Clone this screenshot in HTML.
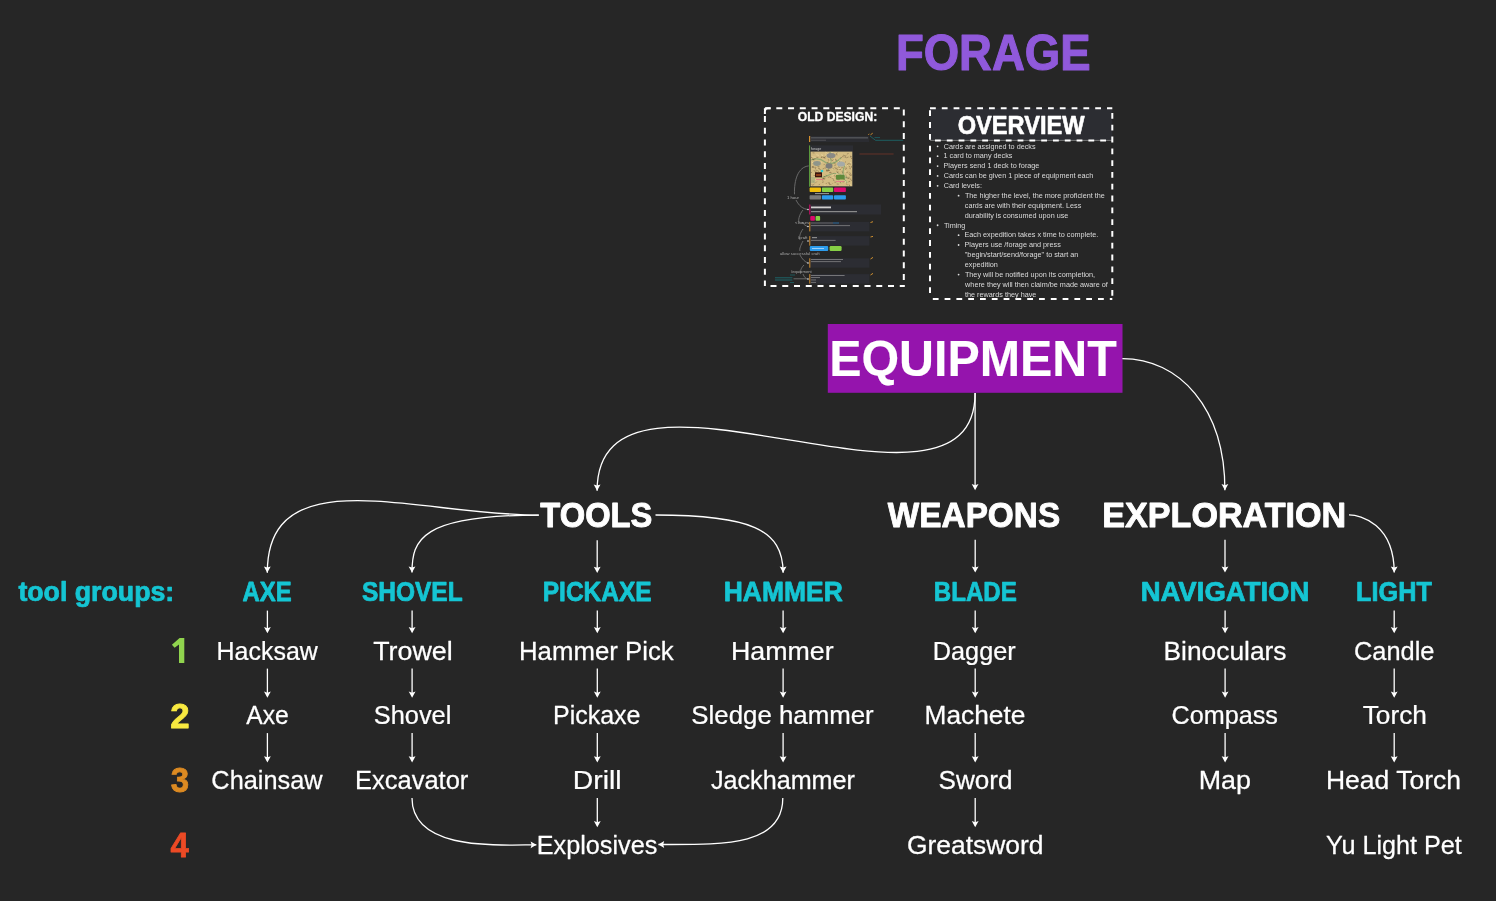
<!DOCTYPE html>
<html><head><meta charset="utf-8"><style>
html,body{margin:0;padding:0;background:#262626;width:1496px;height:901px;overflow:hidden}
svg{display:block;font-family:"Liberation Sans",sans-serif;will-change:transform}
</style></head><body>
<svg width="1496" height="901" viewBox="0 0 1496 901">
<rect width="1496" height="901" fill="#262626"/>
<rect x="827.8" y="324" width="294.7" height="68.8" fill="#9514ad"/>
<!-- overview box -->
<rect x="930" y="108.3" width="182.3" height="32.1" fill="#2c2d32"/>
<line x1="930" y1="140.4" x2="1112.3" y2="140.4" stroke="#9a9a9a" stroke-width="0.7"/>
<line x1="764.9" y1="108.3" x2="903.8" y2="108.3" stroke="#fff" stroke-width="2" stroke-dasharray="6 5.75" stroke-dashoffset="0.35"/>
<line x1="764.9" y1="108.3" x2="764.9" y2="286" stroke="#fff" stroke-width="2" stroke-dasharray="6 5.75" stroke-dashoffset="4.05"/>
<line x1="903.8" y1="108.3" x2="903.8" y2="286" stroke="#fff" stroke-width="2" stroke-dasharray="6 5.75" stroke-dashoffset="10.65"/>
<line x1="764.9" y1="286" x2="904.8" y2="286" stroke="#fff" stroke-width="2" stroke-dasharray="6 5.75" stroke-dashoffset="6.15"/>
<path d="M764.9 114 V111.3 Q764.9 108.3 767.9 108.3 H770.7" fill="none" stroke="#fff" stroke-width="2"/>
<line x1="930" y1="108.3" x2="1112.3" y2="108.3" stroke="#fff" stroke-width="2" stroke-dasharray="5.8 6" stroke-dashoffset="11.8"/>
<line x1="930" y1="108.3" x2="930" y2="299" stroke="#fff" stroke-width="2" stroke-dasharray="5.8 6" stroke-dashoffset="9.8"/>
<line x1="1112.3" y1="108.3" x2="1112.3" y2="299" stroke="#fff" stroke-width="2" stroke-dasharray="5.8 6" stroke-dashoffset="7.1"/>
<line x1="930" y1="140.4" x2="1112.3" y2="140.4" stroke="#fff" stroke-width="2" stroke-dasharray="5.8 6" stroke-dashoffset="6.8"/>
<line x1="930" y1="299" x2="1112.3" y2="299" stroke="#fff" stroke-width="2" stroke-dasharray="5.8 6" stroke-dashoffset="9"/>
<g id="thumb">
<rect x="810" y="136" width="59" height="6" fill="#2b2c31"/>
<rect x="809" y="136" width="1.2" height="6" fill="#d4902e"/>
<rect x="811" y="137.3" width="57" height="1.1" fill="#5f6064"/>
<rect x="811" y="139.7" width="15" height="1.1" fill="#4c4d52"/>
<path d="M868.3 134.6 l1 -0.6 M870.5 134.8 l2.2 -1.6" stroke="#e09a30" stroke-width="0.9"/>
<polyline points="870,136 875.5,140.3 903.3,140.3" fill="none" stroke="#1d6468" stroke-width="0.9"/>
<line x1="874.5" y1="137.6" x2="880" y2="137.6" stroke="#1d6468" stroke-width="0.8"/>
<rect x="810" y="145.4" width="43" height="41.3" fill="#2c2d33"/>
<rect x="809" y="145.4" width="1.1" height="41.3" fill="#5b9a3c"/>
<text x="811" y="149.9" font-size="3.6" fill="#c8c8c8" font-family="Liberation Sans">forage</text>
<rect x="810.6" y="151.6" width="41.7" height="34.7" fill="#d3bc83"/>
<path d="M811 160 q8 -3 14 2 t16 -4 M815 175 q6 4 14 0 t18 3 M830 152 q3 10 -2 18 M845 165 q-5 8 2 18" fill="none" stroke="#8fa870" stroke-width="1.1"/>
<path d="M824.1 157.2l1.6 1.0 M813.9 170.0l0.8 1.6 M834.6 182.5l1.8 -0.6 M812.5 166.6l1.6 1.0 M820.7 170.5l1.6 1.0 M844.5 156.3l1.8 -0.6 M836.5 171.6l1.6 1.0 M834.4 165.4l1.8 -0.6 M812.9 180.8l0.8 1.6 M828.0 170.2l2.0 0.2 M823.5 179.4l1.8 -0.6 M815.2 171.2l1.8 -0.6 M826.1 170.4l1.6 1.0 M833.9 172.8l-1.2 1.2 M838.6 166.4l0.8 1.6 M829.9 183.0l0.8 1.6 M823.1 178.7l1.8 -0.6 M814.3 162.2l-1.2 1.2 M846.4 176.5l0.8 1.6 M835.7 154.6l2.0 0.2 M827.9 177.4l1.8 -0.6 M848.8 166.2l1.6 1.0 M842.0 171.3l0.8 1.6 M824.8 163.9l-1.2 1.2 M834.5 167.4l1.6 1.0 M849.3 168.0l1.6 1.0 M813.5 175.6l2.0 0.2 M851.2 179.6l0.8 1.6 M840.0 181.7l0.8 1.6 M811.9 167.6l1.8 -0.6 M835.7 168.6l1.8 -0.6 M842.1 156.5l1.8 -0.6 M827.1 182.7l-1.2 1.2 M814.3 167.2l2.0 0.2 M822.3 156.8l-1.2 1.2 M846.0 161.5l-1.2 1.2 M851.0 174.9l-1.2 1.2 M849.8 157.2l1.8 -0.6 M817.1 174.1l1.6 1.0 M830.6 171.8l0.8 1.6 M822.4 157.1l2.0 0.2 M826.0 171.1l1.8 -0.6 M839.0 169.4l2.0 0.2 M837.5 176.8l-1.2 1.2 M847.4 178.2l2.0 0.2 M826.9 165.5l1.6 1.0 M830.5 165.5l1.8 -0.6 M813.7 159.2l1.8 -0.6 M815.5 172.2l1.6 1.0 M811.0 157.2l1.6 1.0 M849.4 172.6l1.6 1.0 M846.4 172.6l1.8 -0.6 M836.7 184.0l2.0 0.2 M825.7 156.3l-1.2 1.2 M851.2 167.7l-1.2 1.2 M823.6 157.0l0.8 1.6 M841.0 168.1l1.8 -0.6 M831.9 159.0l2.0 0.2 M825.7 175.2l1.6 1.0 M841.7 162.1l1.6 1.0 M839.2 160.9l0.8 1.6 M847.8 164.0l1.8 -0.6 M832.6 178.1l0.8 1.6 M836.8 172.6l1.8 -0.6 M843.6 179.5l1.8 -0.6 M819.1 168.6l1.6 1.0 M851.1 178.5l-1.2 1.2 M821.5 175.3l0.8 1.6 M829.1 183.4l0.8 1.6 M849.7 164.3l1.8 -0.6 M815.1 167.9l0.8 1.6 M819.3 173.0l2.0 0.2 M845.0 168.2l0.8 1.6 M843.4 155.0l1.6 1.0 M847.8 178.3l1.8 -0.6 M830.4 158.1l0.8 1.6 M814.5 183.7l-1.2 1.2 M829.8 177.0l1.6 1.0 M840.4 157.9l1.8 -0.6 M812.1 171.9l-1.2 1.2 M843.7 157.1l2.0 0.2 M850.7 174.1l0.8 1.6 M817.3 170.5l1.6 1.0 M811.6 184.5l1.6 1.0 M832.3 183.3l-1.2 1.2 M851.0 158.7l1.8 -0.6 M812.1 159.3l2.0 0.2 M820.7 171.7l0.8 1.6 M833.0 180.0l1.6 1.0 M847.9 164.0l-1.2 1.2 M837.8 179.3l2.0 0.2 M828.0 182.8l2.0 0.2 M816.3 157.3l2.0 0.2 M811.8 166.9l1.8 -0.6 M835.6 178.0l1.8 -0.6 M818.0 168.0l1.6 1.0 M833.5 163.1l2.0 0.2 M832.5 168.3l1.6 1.0 M846.8 154.1l1.8 -0.6 M822.2 177.9l2.0 0.2 M829.3 153.1l1.6 1.0 M829.0 172.6l2.0 0.2 M835.5 158.8l0.8 1.6 M829.3 170.0l-1.2 1.2 M831.6 160.4l2.0 0.2 M846.5 183.6l0.8 1.6 M848.4 181.9l1.8 -0.6 M845.0 156.8l1.6 1.0 M826.9 162.7l1.8 -0.6 M828.3 159.3l0.8 1.6 M842.7 182.1l1.8 -0.6 M849.0 173.6l0.8 1.6 M816.8 181.6l-1.2 1.2 M819.9 183.9l-1.2 1.2 M846.8 157.6l1.8 -0.6 M817.5 166.6l2.0 0.2 M827.4 166.2l0.8 1.6 M823.9 176.2l1.6 1.0 M824.7 167.5l1.6 1.0 M826.6 169.4l0.8 1.6 M831.7 154.3l1.8 -0.6 M850.4 155.7l0.8 1.6 M822.0 182.4l1.8 -0.6 M822.0 156.5l-1.2 1.2 M845.4 174.7l0.8 1.6 M827.4 170.1l2.0 0.2 M834.1 175.5l1.6 1.0 M822.3 178.8l1.8 -0.6 M828.2 154.6l1.6 1.0 M836.7 178.9l1.6 1.0 M835.6 159.6l0.8 1.6 M845.9 167.3l0.8 1.6 M851.3 166.1l0.8 1.6 M836.2 153.6l1.8 -0.6 M849.0 184.5l0.8 1.6 M813.0 158.9l0.8 1.6 M836.5 169.9l1.8 -0.6 M822.7 168.9l1.8 -0.6 M822.0 179.0l0.8 1.6 M812.5 152.8l2.0 0.2" stroke="#5c4a2e" stroke-width="0.55" stroke-opacity="0.75" fill="none"/>
<path d="M833.3 158.5l1.4 0.4 M830.2 183.3l1.4 0.4 M815.3 179.5l1.4 0.4 M828.5 168.7l1.4 0.4 M844.8 165.3l1.4 0.4 M831.5 175.1l1.4 0.4 M850.8 163.6l1.4 0.4 M844.7 175.7l1.4 0.4 M836.8 165.7l1.4 0.4 M825.1 154.0l1.4 0.4 M816.3 154.6l1.4 0.4 M841.0 160.7l1.4 0.4 M817.6 155.0l1.4 0.4 M845.1 181.2l1.4 0.4 M838.2 161.6l1.4 0.4 M820.8 162.0l1.4 0.4 M829.6 157.4l1.4 0.4 M829.1 161.0l1.4 0.4 M850.0 184.6l1.4 0.4 M833.2 160.3l1.4 0.4 M850.1 162.5l1.4 0.4 M825.4 152.2l1.4 0.4 M826.5 168.0l1.4 0.4 M831.4 158.9l1.4 0.4 M831.4 152.4l1.4 0.4 M821.7 155.2l1.4 0.4 M827.2 153.6l1.4 0.4 M811.9 162.3l1.4 0.4 M820.4 171.7l1.4 0.4 M832.4 177.2l1.4 0.4 M837.6 176.0l1.4 0.4 M846.6 165.2l1.4 0.4 M824.2 185.0l1.4 0.4 M817.1 176.3l1.4 0.4 M837.1 153.7l1.4 0.4 M844.8 181.9l1.4 0.4 M836.4 176.6l1.4 0.4 M843.9 156.8l1.4 0.4 M832.2 169.0l1.4 0.4 M844.8 179.0l1.4 0.4 M844.5 171.6l1.4 0.4 M847.2 174.9l1.4 0.4 M839.1 159.9l1.4 0.4 M812.3 156.6l1.4 0.4 M825.6 155.7l1.4 0.4 M844.9 170.8l1.4 0.4 M836.4 173.1l1.4 0.4 M838.6 168.5l1.4 0.4 M811.1 178.8l1.4 0.4 M841.3 168.9l1.4 0.4 M832.7 174.2l1.4 0.4 M813.7 176.7l1.4 0.4 M821.2 154.7l1.4 0.4 M821.8 176.5l1.4 0.4 M819.3 176.8l1.4 0.4 M850.5 168.6l1.4 0.4 M826.5 168.2l1.4 0.4 M838.7 177.7l1.4 0.4 M836.0 173.6l1.4 0.4 M814.1 157.1l1.4 0.4" stroke="#efdca6" stroke-width="0.6" fill="none"/>
<ellipse cx="831" cy="155.5" rx="4.5" ry="2.6" fill="#8a8a86"/>
<ellipse cx="817" cy="163.5" rx="3.8" ry="2.4" fill="#8e958a"/>
<ellipse cx="829" cy="166" rx="3.5" ry="2.8" fill="#7d7d7a"/>
<ellipse cx="841" cy="164" rx="4" ry="2.6" fill="#a4aaa8"/>
<rect x="815" y="172.3" width="7" height="5" fill="#3a160e"/>
<rect x="816" y="174" width="5" height="2" fill="#8a3a1a"/>
<circle cx="822" cy="171" r="1.3" fill="#28c8d0"/>
<rect x="836" y="175" width="8.5" height="4.5" fill="#5e8a3a"/>
<rect x="816" y="179" width="7" height="0.8" fill="#e8708a"/>
<rect x="836" y="181" width="8" height="0.7" fill="#e8708a"/>
<rect x="811" y="177" width="4" height="6" fill="#9fae80" opacity="0.6"/>
<line x1="859.4" y1="154" x2="893.6" y2="154" stroke="#6b3328" stroke-width="0.9"/>
<rect x="809.6" y="187.6" width="11.4" height="4.4" rx="0.8" fill="#f0be0a"/>
<rect x="821.9" y="187.6" width="11.3" height="4.4" rx="0.8" fill="#86cf45"/>
<rect x="834" y="187.6" width="11.9" height="4.4" rx="0.8" fill="#dc0a6e"/>
<line x1="815" y1="193.6" x2="829" y2="193.6" stroke="#cfcfcf" stroke-width="0.7"/>
<rect x="809.6" y="195.2" width="11.4" height="4.4" rx="0.8" fill="#7a7a7a"/>
<rect x="821.9" y="195.2" width="11.3" height="4.4" rx="0.8" fill="#2c9bec"/>
<rect x="834" y="195.2" width="11.9" height="4.4" rx="0.8" fill="#2c9bec"/>
<path d="M808.7 165.9 C 798 167, 794 180, 794.5 194.3 M796 200 C 799 206, 803 209, 808 209.5 M803 210 C 799 215, 798 220, 799 224 M802 222 C 804 225, 806 226, 808 226.5 M803 229 C 800 233, 799 237, 800 240 M803 241 C 801 245, 799 249, 800 251 M800 255 C 802 259, 805 262, 808 263 M804 265 C 801 268, 800 271, 801 273 M803 274 C 804 277, 806 279, 808 279" fill="none" stroke="#7a7a7a" stroke-width="0.8"/>
<text x="787" y="199" font-size="4.2" fill="#b0b0b0" font-family="Liberation Sans">1 hour</text>
<rect x="809.8" y="204.5" width="71.2" height="10" fill="#2c2d33"/>
<rect x="809.3" y="204.5" width="1" height="10" fill="#dc0a6e"/>
<rect x="811" y="206.5" width="20" height="1.8" fill="#cfcfcf"/>
<rect x="811" y="211" width="46" height="1.2" fill="#8a8a8a"/>
<rect x="810.3" y="216.1" width="4.6" height="4.7" rx="0.8" fill="#dc0a6e"/>
<rect x="815.6" y="216.1" width="4.5" height="4.7" rx="0.8" fill="#86cf45"/>
<rect x="809.8" y="221.9" width="59.6" height="9.5" fill="#2c2d33"/>
<rect x="809.3" y="221.9" width="1" height="9.5" fill="#d4902e"/>
<rect x="811" y="222.5" width="22" height="1" fill="#66676b"/>
<rect x="833" y="222.5" width="6" height="1" fill="#2a6a9a"/>
<rect x="811" y="225.2" width="39" height="0.9" fill="#7a7a7c"/>
<text x="795" y="224" font-size="4.2" fill="#b0b0b0" font-family="Liberation Sans">&lt; hours</text>
<rect x="809.8" y="236.1" width="59.6" height="9.5" fill="#2c2d33"/>
<rect x="809.3" y="236.1" width="1" height="9.5" fill="#d4902e"/>
<rect x="812" y="237" width="5" height="1.2" fill="#8a8a8a"/>
<rect x="811" y="239.9" width="24.6" height="0.9" fill="#7a7a7c"/>
<text x="798" y="239" font-size="4.2" fill="#b0b0b0" font-family="Liberation Sans">/craft</text>
<rect x="809.8" y="246.1" width="18.4" height="4.8" rx="1" fill="#2c9bec"/>
<rect x="829.6" y="246.1" width="12" height="4.8" rx="1.2" fill="#86cf45"/>
<rect x="812" y="248.2" width="12" height="0.7" fill="#cde6ff"/>
<text x="780" y="254.5" font-size="4.2" fill="#a8a8a8" font-family="Liberation Sans">allow successful craft</text>
<rect x="809.8" y="258.3" width="59.6" height="9.4" fill="#2c2d33"/>
<rect x="809.3" y="258.3" width="1" height="9.4" fill="#d4902e"/>
<rect x="811" y="259.1" width="32" height="0.9" fill="#7e7e80"/>
<rect x="811" y="261.2" width="30" height="0.9" fill="#7a7a7c"/>
<text x="791" y="273" font-size="4.2" fill="#a8a8a8" font-family="Liberation Sans">/equipment</text>
<rect x="809.8" y="274.1" width="59.6" height="9.5" fill="#2c2d33"/>
<rect x="809.3" y="274.1" width="1" height="9.5" fill="#d4902e"/>
<rect x="811" y="275" width="33.6" height="0.9" fill="#7e7e80"/>
<rect x="811" y="277.1" width="9" height="0.9" fill="#7a7a7c"/>
<rect x="811" y="279.5" width="5" height="0.9" fill="#7a7a7c"/>
<rect x="811" y="281.9" width="5" height="0.9" fill="#7a7a7c"/>
<rect x="775" y="277.3" width="17.4" height="1" fill="#1d6468"/>
<rect x="775" y="279.5" width="17.4" height="1" fill="#1d6468"/>
<rect x="790" y="274.6" width="5" height="0.8" fill="#1d6468"/>
<rect x="790" y="282.2" width="4" height="0.8" fill="#1d6468"/>
<line x1="793.5" y1="278.8" x2="806.6" y2="278.8" stroke="#6a6a6a" stroke-width="1"/>
<path d="M870.5 222.5 l2.5 -0.8 M870.5 237 l2.5 -0.6 M870.5 259 l2.5 -1.6 M870.5 275 l2.5 -1.6" stroke="#e09a30" stroke-width="0.9"/>
<g fill="#e6e6e6"><circle cx="808" cy="209.5" r="0.8"/><circle cx="808" cy="226.5" r="0.8"/><circle cx="808" cy="241" r="0.8"/><circle cx="808" cy="263" r="0.8"/><circle cx="808" cy="279" r="0.8"/></g>
</g>

<polygon points="179.6,638 184.3,638 184.3,663 179,663 179,644.6 174.6,647.8 171.9,644.7" fill="#90d44e"/>
<path d="M975.1 393 C975.1 550.19 597.1 327.02 597.1 490.7" fill="none" stroke="#fff" stroke-width="1.3"/>
<polygon points="593.7,484.5 597.1,485.6 600.5,484.5 597.1,490.7" fill="#fff"/>
<path d="M1122.4 358.6 C1178.96 358.6 1224.9 407.45 1224.9 490.3" fill="none" stroke="#fff" stroke-width="1.3"/>
<polygon points="1221.5,484.1 1224.9,485.2 1228.3,484.1 1224.9,490.3" fill="#fff"/>
<path d="M538.8 515.1 C416.68 515.1 267.3 457.42 267.3 572.7" fill="none" stroke="#fff" stroke-width="1.3"/>
<polygon points="263.9,566.5 267.3,567.6 270.7,566.5 267.3,572.7" fill="#fff"/>
<path d="M538.8 515.1 C420.42 515.1 412 539.93 412 572.6" fill="none" stroke="#fff" stroke-width="1.3"/>
<polygon points="408.6,566.4 412,567.5 415.4,566.4 412,572.6" fill="#fff"/>
<path d="M655.5 515 C750.4 515 783.1 529.35 783.1 572.7" fill="none" stroke="#fff" stroke-width="1.3"/>
<polygon points="779.7,566.5 783.1,567.6 786.5,566.5 783.1,572.7" fill="#fff"/>
<path d="M1349 514.9 C1360.69 514.9 1394.2 524.03 1394.2 572.6" fill="none" stroke="#fff" stroke-width="1.3"/>
<polygon points="1390.8,566.4 1394.2,567.5 1397.6,566.4 1394.2,572.6" fill="#fff"/>
<path d="M412 798 C412 852.65 504.43 844.8 536.4 844.8" fill="none" stroke="#fff" stroke-width="1.3"/>
<polygon points="530.6,841.4 531.6,844.8 530.6,848.2 536.4,844.8" fill="#fff"/>
<path d="M782.8 798 C782.8 846.91 721.71 844.5 658.4 844.5" fill="none" stroke="#fff" stroke-width="1.3"/>
<polygon points="664.2,841.1 663.2,844.5 664.2,847.9 658.4,844.5" fill="#fff"/>
<line x1="975.1" y1="393" x2="975.1" y2="488.3" stroke="#fff" stroke-width="1.3"/>
<polygon points="971.7,484.1 975.1,485.2 978.5,484.1 975.1,490.3" fill="#fff"/>
<line x1="597.2" y1="540.2" x2="597.2" y2="570.9" stroke="#fff" stroke-width="1.3"/>
<polygon points="593.8,566.7 597.2,567.8 600.6,566.7 597.2,572.9" fill="#fff"/>
<line x1="975.2" y1="539.7" x2="975.2" y2="570.6" stroke="#fff" stroke-width="1.3"/>
<polygon points="971.8,566.4 975.2,567.5 978.6,566.4 975.2,572.6" fill="#fff"/>
<line x1="1225" y1="539.7" x2="1225" y2="570.6" stroke="#fff" stroke-width="1.3"/>
<polygon points="1221.6,566.4 1225,567.5 1228.4,566.4 1225,572.6" fill="#fff"/>
<line x1="267.4" y1="610.6" x2="267.4" y2="631.3" stroke="#fff" stroke-width="1.3"/>
<polygon points="264,627.1 267.4,628.2 270.8,627.1 267.4,633.3" fill="#fff"/>
<line x1="412.1" y1="610.6" x2="412.1" y2="631.3" stroke="#fff" stroke-width="1.3"/>
<polygon points="408.7,627.1 412.1,628.2 415.5,627.1 412.1,633.3" fill="#fff"/>
<line x1="597.3" y1="610.6" x2="597.3" y2="631.3" stroke="#fff" stroke-width="1.3"/>
<polygon points="593.9,627.1 597.3,628.2 600.7,627.1 597.3,633.3" fill="#fff"/>
<line x1="783.1" y1="610.6" x2="783.1" y2="631.3" stroke="#fff" stroke-width="1.3"/>
<polygon points="779.7,627.1 783.1,628.2 786.5,627.1 783.1,633.3" fill="#fff"/>
<line x1="975.2" y1="610.6" x2="975.2" y2="631.3" stroke="#fff" stroke-width="1.3"/>
<polygon points="971.8,627.1 975.2,628.2 978.6,627.1 975.2,633.3" fill="#fff"/>
<line x1="1225.1" y1="610.6" x2="1225.1" y2="631.3" stroke="#fff" stroke-width="1.3"/>
<polygon points="1221.7,627.1 1225.1,628.2 1228.5,627.1 1225.1,633.3" fill="#fff"/>
<line x1="1394.2" y1="610.6" x2="1394.2" y2="631.3" stroke="#fff" stroke-width="1.3"/>
<polygon points="1390.8,627.1 1394.2,628.2 1397.6,627.1 1394.2,633.3" fill="#fff"/>
<line x1="267.4" y1="668.6" x2="267.4" y2="695.8" stroke="#fff" stroke-width="1.3"/>
<polygon points="264,691.6 267.4,692.7 270.8,691.6 267.4,697.8" fill="#fff"/>
<line x1="412.1" y1="668.6" x2="412.1" y2="695.8" stroke="#fff" stroke-width="1.3"/>
<polygon points="408.7,691.6 412.1,692.7 415.5,691.6 412.1,697.8" fill="#fff"/>
<line x1="597.3" y1="668.6" x2="597.3" y2="695.8" stroke="#fff" stroke-width="1.3"/>
<polygon points="593.9,691.6 597.3,692.7 600.7,691.6 597.3,697.8" fill="#fff"/>
<line x1="783.1" y1="668.6" x2="783.1" y2="695.8" stroke="#fff" stroke-width="1.3"/>
<polygon points="779.7,691.6 783.1,692.7 786.5,691.6 783.1,697.8" fill="#fff"/>
<line x1="975.2" y1="668.6" x2="975.2" y2="695.8" stroke="#fff" stroke-width="1.3"/>
<polygon points="971.8,691.6 975.2,692.7 978.6,691.6 975.2,697.8" fill="#fff"/>
<line x1="1225.1" y1="668.6" x2="1225.1" y2="695.8" stroke="#fff" stroke-width="1.3"/>
<polygon points="1221.7,691.6 1225.1,692.7 1228.5,691.6 1225.1,697.8" fill="#fff"/>
<line x1="1394.2" y1="668.6" x2="1394.2" y2="695.8" stroke="#fff" stroke-width="1.3"/>
<polygon points="1390.8,691.6 1394.2,692.7 1397.6,691.6 1394.2,697.8" fill="#fff"/>
<line x1="267.4" y1="733.1" x2="267.4" y2="760.4" stroke="#fff" stroke-width="1.3"/>
<polygon points="264,756.2 267.4,757.3 270.8,756.2 267.4,762.4" fill="#fff"/>
<line x1="412.1" y1="733.1" x2="412.1" y2="760.4" stroke="#fff" stroke-width="1.3"/>
<polygon points="408.7,756.2 412.1,757.3 415.5,756.2 412.1,762.4" fill="#fff"/>
<line x1="597.3" y1="733.1" x2="597.3" y2="760.4" stroke="#fff" stroke-width="1.3"/>
<polygon points="593.9,756.2 597.3,757.3 600.7,756.2 597.3,762.4" fill="#fff"/>
<line x1="783.1" y1="733.1" x2="783.1" y2="760.4" stroke="#fff" stroke-width="1.3"/>
<polygon points="779.7,756.2 783.1,757.3 786.5,756.2 783.1,762.4" fill="#fff"/>
<line x1="975.2" y1="733.1" x2="975.2" y2="760.4" stroke="#fff" stroke-width="1.3"/>
<polygon points="971.8,756.2 975.2,757.3 978.6,756.2 975.2,762.4" fill="#fff"/>
<line x1="1225.1" y1="733.1" x2="1225.1" y2="760.4" stroke="#fff" stroke-width="1.3"/>
<polygon points="1221.7,756.2 1225.1,757.3 1228.5,756.2 1225.1,762.4" fill="#fff"/>
<line x1="1394.2" y1="733.1" x2="1394.2" y2="760.4" stroke="#fff" stroke-width="1.3"/>
<polygon points="1390.8,756.2 1394.2,757.3 1397.6,756.2 1394.2,762.4" fill="#fff"/>
<line x1="597.3" y1="798" x2="597.3" y2="825.3" stroke="#fff" stroke-width="1.3"/>
<polygon points="593.9,821.1 597.3,822.2 600.7,821.1 597.3,827.3" fill="#fff"/>
<line x1="975.2" y1="798" x2="975.2" y2="825.3" stroke="#fff" stroke-width="1.3"/>
<polygon points="971.8,821.1 975.2,822.2 978.6,821.1 975.2,827.3" fill="#fff"/>
<text transform="translate(895.9 69.85) scale(0.9052 1)" font-size="50.29" font-weight="bold" fill="#9059db" stroke="#9059db" stroke-width="1.1" stroke-linejoin="round">FORAGE</text>
<text transform="translate(829.14 375.74) scale(0.9656 1)" font-size="50.12" font-weight="bold" fill="#ffffff" stroke="#ffffff" stroke-width="0.12" stroke-linejoin="round">EQUIPMENT</text>
<text transform="translate(540.35 527.45) scale(0.9376 1)" font-size="34.88" font-weight="bold" fill="#ffffff" stroke="#ffffff" stroke-width="0.9" stroke-linejoin="round">TOOLS</text>
<text transform="translate(887.85 527.45) scale(0.9564 1)" font-size="34.88" font-weight="bold" fill="#ffffff" stroke="#ffffff" stroke-width="0.9" stroke-linejoin="round">WEAPONS</text>
<text transform="translate(1102.32 527.45) scale(0.9784 1)" font-size="34.88" font-weight="bold" fill="#ffffff" stroke="#ffffff" stroke-width="0.9" stroke-linejoin="round">EXPLORATION</text>
<text transform="translate(18.38 601.12) scale(0.9973 1)" font-size="26.82" font-weight="bold" fill="#15c5d3" stroke="#15c5d3" stroke-width="0.75" stroke-linejoin="round">tool groups:</text>
<text transform="translate(242.5 601.12) scale(0.8896 1)" font-size="26.82" font-weight="bold" fill="#15c5d3" stroke="#15c5d3" stroke-width="0.75" stroke-linejoin="round">AXE</text>
<text transform="translate(361.89 601.12) scale(0.9137 1)" font-size="26.82" font-weight="bold" fill="#15c5d3" stroke="#15c5d3" stroke-width="0.75" stroke-linejoin="round">SHOVEL</text>
<text transform="translate(542.74 601.12) scale(0.9146 1)" font-size="26.82" font-weight="bold" fill="#15c5d3" stroke="#15c5d3" stroke-width="0.75" stroke-linejoin="round">PICKAXE</text>
<text transform="translate(723.72 601.12) scale(0.9871 1)" font-size="26.82" font-weight="bold" fill="#15c5d3" stroke="#15c5d3" stroke-width="0.75" stroke-linejoin="round">HAMMER</text>
<text transform="translate(933.72 601.12) scale(0.9002 1)" font-size="26.82" font-weight="bold" fill="#15c5d3" stroke="#15c5d3" stroke-width="0.75" stroke-linejoin="round">BLADE</text>
<text transform="translate(1140.65 601.12) scale(1.0269 1)" font-size="26.82" font-weight="bold" fill="#15c5d3" stroke="#15c5d3" stroke-width="0.75" stroke-linejoin="round">NAVIGATION</text>
<text transform="translate(1356.1 601.12) scale(0.9419 1)" font-size="26.82" font-weight="bold" fill="#15c5d3" stroke="#15c5d3" stroke-width="0.75" stroke-linejoin="round">LIGHT</text>
<text transform="translate(216.57 659.77) scale(0.9651 1)" font-size="25.87" font-weight="normal" fill="#ffffff" stroke="#ffffff" stroke-width="0.25" stroke-linejoin="round">Hacksaw</text>
<text transform="translate(373.21 659.77) scale(1.0361 1)" font-size="25.87" font-weight="normal" fill="#ffffff" stroke="#ffffff" stroke-width="0.25" stroke-linejoin="round">Trowel</text>
<text transform="translate(519.01 659.77) scale(0.9969 1)" font-size="25.87" font-weight="normal" fill="#ffffff" stroke="#ffffff" stroke-width="0.25" stroke-linejoin="round">Hammer Pick</text>
<text transform="translate(731.03 659.77) scale(1.0352 1)" font-size="25.87" font-weight="normal" fill="#ffffff" stroke="#ffffff" stroke-width="0.25" stroke-linejoin="round">Hammer</text>
<text transform="translate(932.85 659.77) scale(0.9763 1)" font-size="25.87" font-weight="normal" fill="#ffffff" stroke="#ffffff" stroke-width="0.25" stroke-linejoin="round">Dagger</text>
<text transform="translate(1163.47 659.77) scale(1.0185 1)" font-size="25.87" font-weight="normal" fill="#ffffff" stroke="#ffffff" stroke-width="0.25" stroke-linejoin="round">Binoculars</text>
<text transform="translate(1353.93 659.77) scale(0.9827 1)" font-size="25.87" font-weight="normal" fill="#ffffff" stroke="#ffffff" stroke-width="0.25" stroke-linejoin="round">Candle</text>
<text transform="translate(246.32 724.38) scale(0.9522 1)" font-size="25.87" font-weight="normal" fill="#ffffff" stroke="#ffffff" stroke-width="0.25" stroke-linejoin="round">Axe</text>
<text transform="translate(373.83 724.38) scale(0.9799 1)" font-size="25.87" font-weight="normal" fill="#ffffff" stroke="#ffffff" stroke-width="0.25" stroke-linejoin="round">Shovel</text>
<text transform="translate(552.97 724.38) scale(0.9661 1)" font-size="25.87" font-weight="normal" fill="#ffffff" stroke="#ffffff" stroke-width="0.25" stroke-linejoin="round">Pickaxe</text>
<text transform="translate(691.32 724.38) scale(0.9992 1)" font-size="25.87" font-weight="normal" fill="#ffffff" stroke="#ffffff" stroke-width="0.25" stroke-linejoin="round">Sledge hammer</text>
<text transform="translate(924.57 724.38) scale(1.0165 1)" font-size="25.87" font-weight="normal" fill="#ffffff" stroke="#ffffff" stroke-width="0.25" stroke-linejoin="round">Machete</text>
<text transform="translate(1171.54 724.38) scale(0.9739 1)" font-size="25.87" font-weight="normal" fill="#ffffff" stroke="#ffffff" stroke-width="0.25" stroke-linejoin="round">Compass</text>
<text transform="translate(1362.71 724.38) scale(1.0153 1)" font-size="25.87" font-weight="normal" fill="#ffffff" stroke="#ffffff" stroke-width="0.25" stroke-linejoin="round">Torch</text>
<text transform="translate(211.34 788.98) scale(0.9791 1)" font-size="25.87" font-weight="normal" fill="#ffffff" stroke="#ffffff" stroke-width="0.25" stroke-linejoin="round">Chainsaw</text>
<text transform="translate(354.93 788.98) scale(0.9864 1)" font-size="25.87" font-weight="normal" fill="#ffffff" stroke="#ffffff" stroke-width="0.25" stroke-linejoin="round">Excavator</text>
<text transform="translate(572.81 788.98) scale(1.0939 1)" font-size="25.87" font-weight="normal" fill="#ffffff" stroke="#ffffff" stroke-width="0.25" stroke-linejoin="round">Drill</text>
<text transform="translate(710.93 788.98) scale(0.9729 1)" font-size="25.87" font-weight="normal" fill="#ffffff" stroke="#ffffff" stroke-width="0.25" stroke-linejoin="round">Jackhammer</text>
<text transform="translate(938.61 788.98) scale(1.0081 1)" font-size="25.87" font-weight="normal" fill="#ffffff" stroke="#ffffff" stroke-width="0.25" stroke-linejoin="round">Sword</text>
<text transform="translate(1198.63 788.98) scale(1.0379 1)" font-size="25.87" font-weight="normal" fill="#ffffff" stroke="#ffffff" stroke-width="0.25" stroke-linejoin="round">Map</text>
<text transform="translate(1325.95 788.98) scale(1.0258 1)" font-size="25.87" font-weight="normal" fill="#ffffff" stroke="#ffffff" stroke-width="0.25" stroke-linejoin="round">Head Torch</text>
<text transform="translate(536.75 853.58) scale(0.9753 1)" font-size="25.87" font-weight="normal" fill="#ffffff" stroke="#ffffff" stroke-width="0.25" stroke-linejoin="round">Explosives</text>
<text transform="translate(906.99 853.58) scale(1.0221 1)" font-size="25.87" font-weight="normal" fill="#ffffff" stroke="#ffffff" stroke-width="0.25" stroke-linejoin="round">Greatsword</text>
<text transform="translate(1326.03 853.58) scale(0.9737 1)" font-size="25.87" font-weight="normal" fill="#ffffff" stroke="#ffffff" stroke-width="0.25" stroke-linejoin="round">Yu Light Pet</text>
<text transform="translate(170.21 727.5) scale(0.9772 1)" font-size="35.61" font-weight="bold" fill="#f8e940" stroke="#f8e940" stroke-width="0.8" stroke-linejoin="round">2</text>
<text transform="translate(170.78 792.2) scale(0.9258 1)" font-size="35.61" font-weight="bold" fill="#dc8a22" stroke="#dc8a22" stroke-width="0.8" stroke-linejoin="round">3</text>
<text transform="translate(170.4 856.6) scale(0.9236 1)" font-size="35.61" font-weight="bold" fill="#ec4a25" stroke="#ec4a25" stroke-width="0.8" stroke-linejoin="round">4</text>
<text transform="translate(797.77 120.85) scale(0.9931 1)" font-size="12.21" font-weight="bold" fill="#ffffff" stroke="#ffffff" stroke-width="0.3" stroke-linejoin="round">OLD DESIGN:</text>
<text transform="translate(957.66 133.8) scale(0.9451 1)" font-size="25" font-weight="bold" fill="#ffffff" stroke="#ffffff" stroke-width="0.6" stroke-linejoin="round">OVERVIEW</text>
<text transform="translate(943.66 148.6) scale(0.9968 1)" font-size="7.3" fill="#dcdcdc">Cards are assigned to decks</text>
<circle cx="937.6" cy="146.3" r="0.9" fill="#dcdcdc"/>
<text transform="translate(943.55 158.47) scale(0.9968 1)" font-size="7.3" fill="#dcdcdc">1 card to many decks</text>
<circle cx="937.6" cy="156.17" r="0.9" fill="#dcdcdc"/>
<text transform="translate(943.43 168.34) scale(0.9968 1)" font-size="7.3" fill="#dcdcdc">Players send 1 deck to forage</text>
<circle cx="937.6" cy="166.04" r="0.9" fill="#dcdcdc"/>
<text transform="translate(943.66 178.21) scale(0.9968 1)" font-size="7.3" fill="#dcdcdc">Cards can be given 1 piece of equipment each</text>
<circle cx="937.6" cy="175.91" r="0.9" fill="#dcdcdc"/>
<text transform="translate(943.66 188.08) scale(0.9968 1)" font-size="7.3" fill="#dcdcdc">Card levels:</text>
<circle cx="937.6" cy="185.78" r="0.9" fill="#dcdcdc"/>
<text transform="translate(964.89 197.95) scale(0.9968 1)" font-size="7.3" fill="#dcdcdc">The higher the level, the more proficient the</text>
<circle cx="958.6" cy="195.65" r="0.9" fill="#dcdcdc"/>
<text transform="translate(964.77 207.82) scale(0.9968 1)" font-size="7.3" fill="#dcdcdc">cards are with their equipment. Less</text>
<text transform="translate(964.77 217.69) scale(0.9968 1)" font-size="7.3" fill="#dcdcdc">durability is consumed upon use</text>
<text transform="translate(943.89 227.56) scale(0.9968 1)" font-size="7.3" fill="#dcdcdc">Timing</text>
<circle cx="937.6" cy="225.26" r="0.9" fill="#dcdcdc"/>
<text transform="translate(964.43 237.43) scale(0.9968 1)" font-size="7.3" fill="#dcdcdc">Each expedition takes x time to complete.</text>
<circle cx="958.6" cy="235.13" r="0.9" fill="#dcdcdc"/>
<text transform="translate(964.43 247.3) scale(0.9968 1)" font-size="7.3" fill="#dcdcdc">Players use /forage and press</text>
<circle cx="958.6" cy="245" r="0.9" fill="#dcdcdc"/>
<text transform="translate(964.77 257.17) scale(0.9968 1)" font-size="7.3" fill="#dcdcdc">&quot;begin/start/send/forage&quot; to start an</text>
<text transform="translate(964.77 267.04) scale(0.9968 1)" font-size="7.3" fill="#dcdcdc">expedition</text>
<text transform="translate(964.89 276.91) scale(0.9968 1)" font-size="7.3" fill="#dcdcdc">They will be notified upon its completion,</text>
<circle cx="958.6" cy="274.61" r="0.9" fill="#dcdcdc"/>
<text transform="translate(965.11 286.78) scale(0.9968 1)" font-size="7.3" fill="#dcdcdc">where they will then claim/be made aware of</text>
<text transform="translate(965 296.65) scale(0.9968 1)" font-size="7.3" fill="#dcdcdc">the rewards they have</text>
</svg>
</body></html>
